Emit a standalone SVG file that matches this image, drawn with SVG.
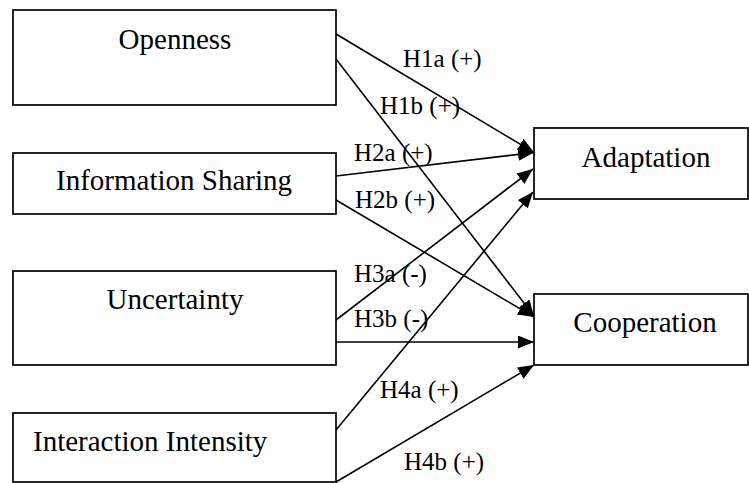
<svg xmlns="http://www.w3.org/2000/svg" width="749" height="483" viewBox="0 0 749 483">
  <defs>
    <marker id="arrow" markerUnits="userSpaceOnUse" markerWidth="18" markerHeight="15" refX="16" refY="6.5" orient="auto">
      <path d="M0,0 L16,6.5 L0,13 Z" fill="#000"/>
    </marker>
    <style>
      .box { fill: #fff; stroke: #000; stroke-width: 1.7; }
      .node-text { font-family: "Liberation Serif", "Times New Roman", serif; font-size: 29px; fill: #000; }
      .edge { fill: none; stroke: #000; stroke-width: 1.6; marker-end: url(#arrow); }
      .edge-label { font-family: "Liberation Serif", "Times New Roman", serif; font-size: 25px; fill: #000; }
    </style>
  </defs>
  <rect width="749" height="483" fill="#fff"/>

  <!-- connectors -->
  <g id="connectors">
    <line class="edge" x1="336" y1="34" x2="534" y2="152.5"/>
    <line class="edge" x1="336" y1="59" x2="534" y2="316"/>
    <line class="edge" x1="336" y1="176" x2="534" y2="152.5"/>
    <line class="edge" x1="336" y1="200" x2="534" y2="317"/>
    <line class="edge" x1="336" y1="320" x2="533" y2="169"/>
    <line class="edge" x1="336" y1="342" x2="534" y2="342"/>
    <line class="edge" x1="336" y1="430" x2="533" y2="192"/>
    <line class="edge" x1="336" y1="482" x2="534" y2="365"/>
  </g>

  <!-- hypothesis labels -->
  <g id="labels">
    <text class="edge-label" x="403" y="67">H1a (+)</text>
    <text class="edge-label" x="380" y="114">H1b (+)</text>
    <text class="edge-label" x="354" y="161">H2a (+)</text>
    <text class="edge-label" x="355" y="208">H2b (+)</text>
    <text class="edge-label" x="354" y="282">H3a (-)</text>
    <text class="edge-label" x="354" y="327">H3b (-)</text>
    <text class="edge-label" x="380" y="398">H4a (+)</text>
    <text class="edge-label" x="404" y="470">H4b (+)</text>
  </g>

  <!-- source constructs -->
  <g id="openness">
    <rect class="box" x="13" y="10" width="323" height="95"/>
    <text class="node-text" x="175" y="49" text-anchor="middle">Openness</text>
  </g>
  <g id="information-sharing">
    <rect class="box" x="13" y="153" width="323" height="61"/>
    <text class="node-text" x="174" y="190" text-anchor="middle">Information Sharing</text>
  </g>
  <g id="uncertainty">
    <rect class="box" x="13" y="271" width="323" height="94"/>
    <text class="node-text" x="175" y="309" text-anchor="middle">Uncertainty</text>
  </g>
  <g id="interaction-intensity">
    <rect class="box" x="13" y="413" width="323" height="69"/>
    <text class="node-text" x="33" y="451">Interaction Intensity</text>
  </g>

  <!-- outcome constructs -->
  <g id="adaptation">
    <rect class="box" x="534" y="128" width="214" height="71"/>
    <text class="node-text" x="646" y="167" text-anchor="middle">Adaptation</text>
  </g>
  <g id="cooperation">
    <rect class="box" x="534" y="294" width="214" height="71"/>
    <text class="node-text" x="645" y="332" text-anchor="middle">Cooperation</text>
  </g>
</svg>
